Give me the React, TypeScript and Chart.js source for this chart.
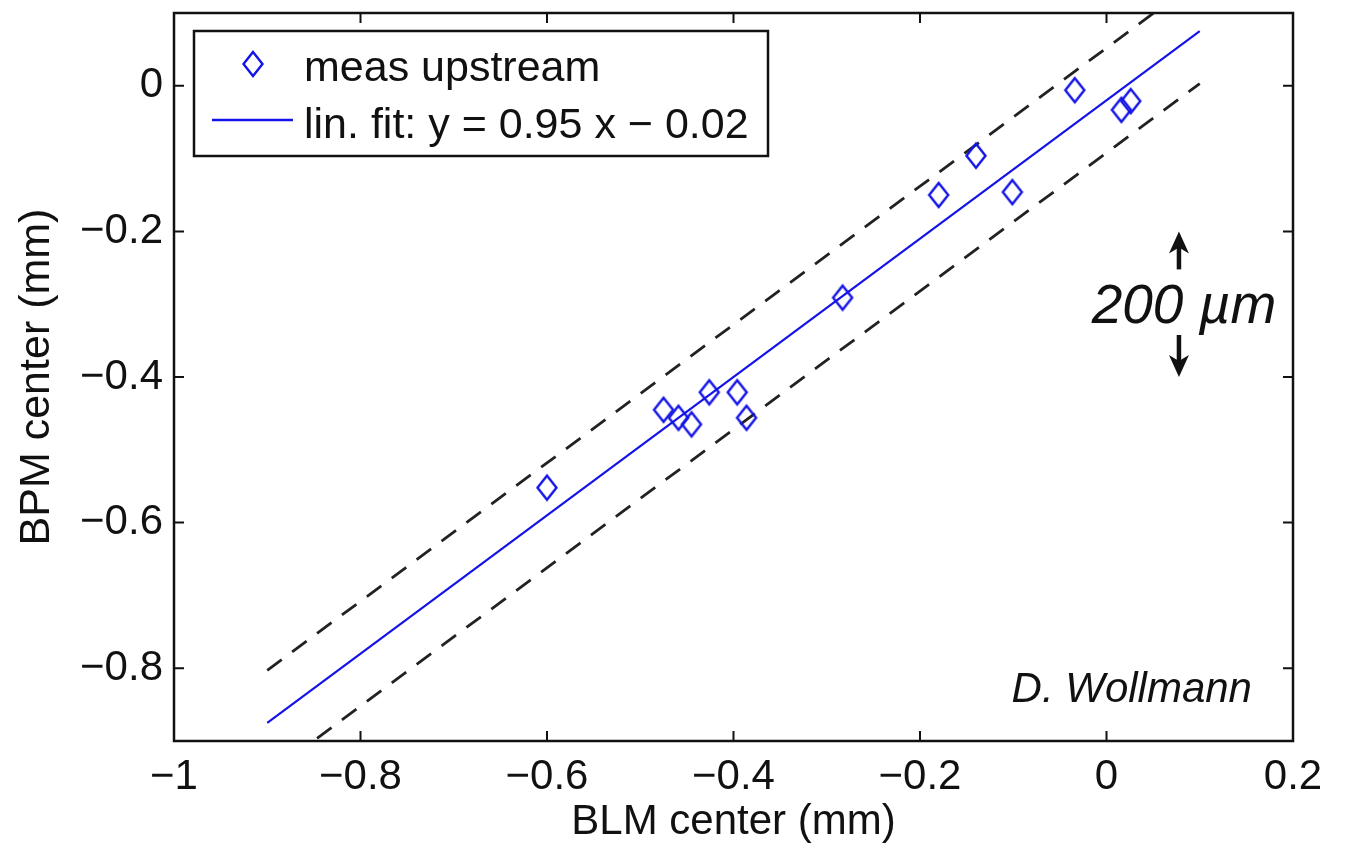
import React, { useEffect, useRef } from "react";
import { Chart, registerables } from "chart.js";

Chart.register(...registerables);

// ---- data (mm) ----
const MEAS_X = [-0.600, -0.475, -0.459, -0.445, -0.426, -0.396, -0.386, -0.283, -0.180, -0.140, -0.101, -0.034, 0.016, 0.026];
const MEAS_Y = [-0.552, -0.445, -0.456, -0.465, -0.421, -0.421, -0.456, -0.291, -0.150, -0.096, -0.146, -0.006, -0.033, -0.021];

const FIT_X = [-0.9, 0.1];
const FIT_Y = [-0.875, 0.075];
const UPPER_X = [-0.9, 0.1];
const UPPER_Y = [-0.803, 0.147];
const LOWER_X = [-0.9, 0.1];
const LOWER_Y = [-0.947, 0.003];

const X_TICKS = [-1, -0.8, -0.6, -0.4, -0.2, 0, 0.2];
const Y_TICKS = [-0.8, -0.6, -0.4, -0.2, 0];

const LEGEND_LABELS = ["meas upstream", "lin. fit: y = 0.95 x \u2212 0.02"];
const X_TITLE = "BLM center (mm)";
const Y_TITLE = "BPM center (mm)";
const SPAN_LABEL = "200 \u00b5m";
const SPAN_FROM = -0.2;
const SPAN_TO = -0.4;
const SPAN_X = 0.0777;
const CREDIT = "D. Wollmann";

const FONT = '"Liberation Sans", Arial, Helvetica, sans-serif';
const BLUE = "#1414e6";
const INK = "#111111";

function fmt(v: number): string {
  const r = Math.round(v * 10) / 10;
  if (r === 0) return "0";
  return (r < 0 ? "\u2212" : "") + Math.abs(r).toString();
}

function makeDiamond(): HTMLCanvasElement {
  const c = document.createElement("canvas");
  c.width = 26;
  c.height = 30;
  const g = c.getContext("2d")!;
  g.strokeStyle = BLUE;
  g.lineWidth = 2.4;
  g.beginPath();
  g.moveTo(13, 3);
  g.lineTo(22.5, 15);
  g.lineTo(13, 27);
  g.lineTo(3.5, 15);
  g.closePath();
  g.stroke();
  return c;
}

function pts(xs: number[], ys: number[]) {
  return xs.map((x, i) => ({ x, y: ys[i] }));
}

export default function App() {
  const ref = useRef<HTMLCanvasElement>(null);

  useEffect(() => {
    const canvas = ref.current!;
    const diamond = makeDiamond();

    const framePlugin = {
      id: "matlabFrame",
      afterDatasetsDraw(chart: any) {
        const { ctx, chartArea: a, scales } = chart;
        const xs = scales.x;
        const ys = scales.y;
        ctx.save();
        // ticks (inward, all four sides)
        ctx.strokeStyle = INK;
        ctx.lineWidth = 2;
        ctx.beginPath();
        X_TICKS.forEach((v) => {
          const px = xs.getPixelForValue(v);
          ctx.moveTo(px, a.bottom);
          ctx.lineTo(px, a.bottom - 10);
          ctx.moveTo(px, a.top);
          ctx.lineTo(px, a.top + 10);
        });
        Y_TICKS.forEach((v) => {
          const py = ys.getPixelForValue(v);
          ctx.moveTo(a.left, py);
          ctx.lineTo(a.left + 10, py);
          ctx.moveTo(a.right, py);
          ctx.lineTo(a.right - 10, py);
        });
        ctx.stroke();
        // box
        ctx.lineWidth = 2.5;
        ctx.strokeRect(a.left, a.top, a.right - a.left, a.bottom - a.top);

        // legend
        const lx = a.left + 20;
        const ly = a.top + 18;
        const lw = 574;
        const lh = 125;
        ctx.fillStyle = "#ffffff";
        ctx.fillRect(lx, ly, lw, lh);
        ctx.strokeStyle = INK;
        ctx.lineWidth = 2.5;
        ctx.strokeRect(lx, ly, lw, lh);
        ctx.drawImage(diamond, a.left + 79 - diamond.width / 2, a.top + 51 - diamond.height / 2);
        ctx.strokeStyle = BLUE;
        ctx.lineWidth = 2.4;
        ctx.beginPath();
        ctx.moveTo(a.left + 38, a.top + 107);
        ctx.lineTo(a.left + 119, a.top + 107);
        ctx.stroke();
        ctx.fillStyle = INK;
        ctx.font = `43px ${FONT}`;
        ctx.textAlign = "left";
        ctx.textBaseline = "alphabetic";
        ctx.fillText(LEGEND_LABELS[0], a.left + 130, a.top + 68);
        ctx.fillText(LEGEND_LABELS[1], a.left + 130, a.top + 125);

        // span annotation
        const ax = xs.getPixelForValue(SPAN_X);
        const top = ys.getPixelForValue(SPAN_FROM);
        const bot = ys.getPixelForValue(SPAN_TO);
        ctx.fillStyle = INK;
        ctx.strokeStyle = INK;
        ctx.lineWidth = 4.5;
        // up arrow
        ctx.beginPath();
        ctx.moveTo(ax, top + 38);
        ctx.lineTo(ax, top + 14);
        ctx.stroke();
        ctx.beginPath();
        ctx.moveTo(ax, top);
        ctx.lineTo(ax + 10, top + 22);
        ctx.lineTo(ax, top + 16);
        ctx.lineTo(ax - 10, top + 22);
        ctx.closePath();
        ctx.fill();
        // down arrow
        ctx.beginPath();
        ctx.moveTo(ax, bot - 42);
        ctx.lineTo(ax, bot - 14);
        ctx.stroke();
        ctx.beginPath();
        ctx.moveTo(ax, bot);
        ctx.lineTo(ax + 10, bot - 22);
        ctx.lineTo(ax, bot - 16);
        ctx.lineTo(ax - 10, bot - 22);
        ctx.closePath();
        ctx.fill();
        ctx.font = `italic 55px ${FONT}`;
        ctx.textAlign = "center";
        ctx.fillText(SPAN_LABEL, ax + 5, (top + bot) / 2 + 19);

        // credit
        ctx.font = `italic 42px ${FONT}`;
        ctx.textAlign = "right";
        ctx.fillText(CREDIT, xs.getPixelForValue(0.156), ys.getPixelForValue(-0.846));
        ctx.restore();
      },
    };

    const chart = new Chart(canvas, {
      type: "scatter",
      data: {
        datasets: [
          {
            label: LEGEND_LABELS[0],
            data: pts(MEAS_X, MEAS_Y),
            pointStyle: diamond as any,
            pointRadius: 12,
            borderColor: BLUE,
            backgroundColor: "rgba(0,0,0,0)",
            showLine: false,
          },
          {
            type: "line",
            label: LEGEND_LABELS[1],
            data: pts(FIT_X, FIT_Y),
            borderColor: BLUE,
            borderWidth: 2.2,
            pointRadius: 0,
            fill: false,
          },
          {
            type: "line",
            label: "upper",
            data: pts(UPPER_X, UPPER_Y),
            borderColor: "#222222",
            borderWidth: 2.8,
            borderDash: [18, 13],
            pointRadius: 0,
            fill: false,
          },
          {
            type: "line",
            label: "lower",
            data: pts(LOWER_X, LOWER_Y),
            borderColor: "#222222",
            borderWidth: 2.8,
            borderDash: [18, 13],
            pointRadius: 0,
            fill: false,
          },
        ] as any,
      },
      options: {
        animation: false,
        responsive: false,
        devicePixelRatio: 1,
        layout: { padding: { top: 12, right: 52, left: 0, bottom: 0 } },
        plugins: { legend: { display: false }, tooltip: { enabled: false } },
        scales: {
          x: {
            type: "linear",
            min: -1,
            max: 0.2,
            afterBuildTicks: (s: any) => {
              s.ticks = X_TICKS.map((v) => ({ value: v }));
            },
            afterFit: (s: any) => {
              s.height = 104;
              s.paddingLeft = 0;
              s.paddingRight = 0;
              s.paddingTop = 0;
              s.paddingBottom = 0;
            },
            grid: { display: false, drawTicks: false },
            border: { display: false },
            ticks: {
              font: { family: FONT, size: 42, lineHeight: 1.2 },
              color: INK,
              padding: 11,
              maxRotation: 0,
              autoSkip: false,
              callback: (v: any) => fmt(Number(v)),
            },
            title: {
              display: true,
              text: X_TITLE,
              color: INK,
              font: { family: FONT, size: 42, lineHeight: 1 },
              padding: { top: 0, bottom: 2 },
            },
          },
          y: {
            type: "linear",
            min: -0.9,
            max: 0.1,
            afterBuildTicks: (s: any) => {
              s.ticks = Y_TICKS.map((v) => ({ value: v }));
            },
            afterFit: (s: any) => {
              s.width = 174;
              s.paddingLeft = 0;
              s.paddingRight = 0;
              s.paddingTop = 0;
              s.paddingBottom = 0;
            },
            grid: { display: false, drawTicks: false },
            border: { display: false },
            ticks: {
              font: { family: FONT, size: 42, lineHeight: 1.2 },
              color: INK,
              padding: 11,
              autoSkip: false,
              callback: (v: any) => fmt(Number(v)),
            },
            title: {
              display: true,
              text: Y_TITLE,
              color: INK,
              font: { family: FONT, size: 43, lineHeight: 1 },
              padding: { top: 16, bottom: 0 },
            },
          },
        },
      } as any,
      plugins: [framePlugin],
    });

    return () => chart.destroy();
  }, []);

  return (
    <div style={{ position: "fixed", left: 0, top: 0, width: 1345, height: 845, background: "#ffffff" }}>
      <canvas ref={ref} width={1345} height={845} style={{ display: "block", width: 1345, height: 845 }} />
    </div>
  );
}
